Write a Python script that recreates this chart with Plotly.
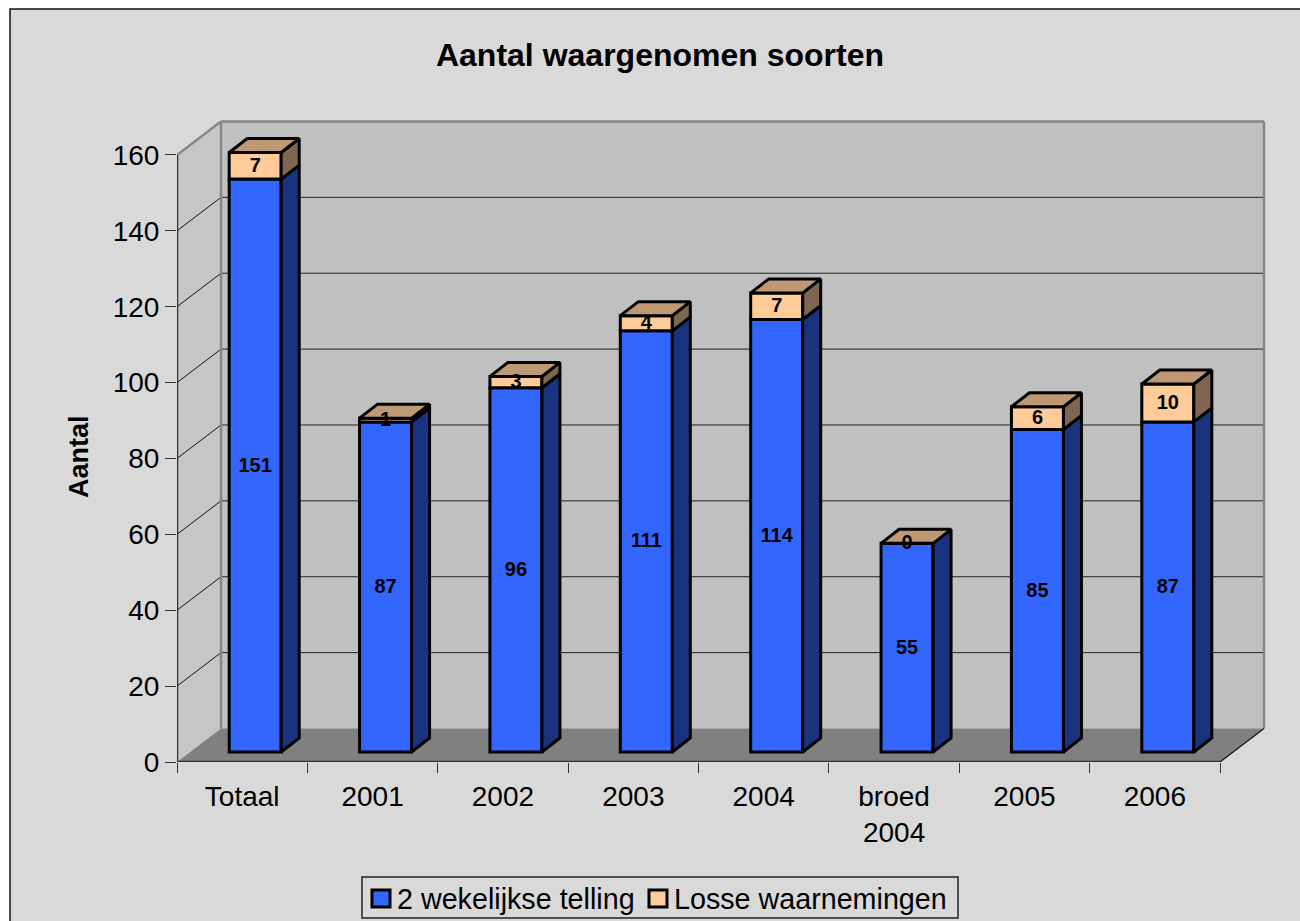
import plotly.graph_objects as go

categories = ["Totaal", "2001", "2002", "2003", "2004", "broed<br>2004", "2005", "2006"]
telling = [151, 87, 96, 111, 114, 55, 85, 87]
losse = [7, 1, 3, 4, 7, 0, 6, 10]
y_ticks = [0, 20, 40, 60, 80, 100, 120, 140, 160]
series_names = ["2 wekelijkse telling", "Losse waarnemingen"]
series_colors = ["#3366FF", "#FFCC99"]

W, H = 1300, 921
PX_X = 130.375      # pixels per category
PX_Y = 3.794        # pixels per unit
X0_PX, Y0_PX = 177, 762
DEPTH_X, DEPTH_Y = 44 / PX_X, 33.5 / PX_Y      # wall depth
BAR_W = 52 / PX_X
BAR_SHIFT = 13 / PX_X
BAR_BASE = 10 / PX_Y
BAR_DX, BAR_DY = 18 / PX_X, 14 / PX_Y
LABEL_NUDGE = 1 / PX_Y
FONT = "Liberation Sans, Arial, sans-serif"

x_lo, x_hi_wall = -0.5, 7.5 + DEPTH_X
y_hi_wall = 160 + DEPTH_Y
PAD = 4
x_hi = x_hi_wall + PAD / PX_X
y_hi = y_hi_wall + PAD / PX_Y
x_idx = list(range(len(categories)))
bar_x = [i + BAR_SHIFT for i in x_idx]


def path(pts):
    return "M" + "L".join(f"{a},{b}" for a, b in pts) + "Z"


def seg(a, b, color, width):
    return dict(type="line", layer="below", xref="x", yref="y", x0=a[0], y0=a[1], x1=b[0], y1=b[1],
                line=dict(color=color, width=width))


def paper_rect(x0, y0, x1, y1, fill, line_color, line_width):
    return dict(type="rect", layer="below", xref="paper", yref="paper", x0=x0 / W, x1=x1 / W,
                y0=1 - y1 / H, y1=1 - y0 / H, fillcolor=fill, line=dict(color=line_color, width=line_width))


shapes = [
    paper_rect(10, 9, W + 20, H + 20, "#D9D9D9", "#111111", 1.5),
    # left wall
    dict(type="path", layer="below", xref="x", yref="y",
         path=path([(x_lo, 0), (x_lo + DEPTH_X, DEPTH_Y), (x_lo + DEPTH_X, y_hi_wall), (x_lo, 160)]),
         fillcolor="#C6C6C6", line=dict(width=0)),
    # back wall
    dict(type="path", layer="below", xref="x", yref="y",
         path=path([(x_lo + DEPTH_X, DEPTH_Y), (x_hi_wall, DEPTH_Y), (x_hi_wall, y_hi_wall), (x_lo + DEPTH_X, y_hi_wall)]),
         fillcolor="#C0C0C0", line=dict(width=0)),
    # floor
    dict(type="path", layer="below", xref="x", yref="y",
         path=path([(x_lo, 0), (7.5, 0), (x_hi_wall, DEPTH_Y), (x_lo + DEPTH_X, DEPTH_Y)]),
         fillcolor="#808080", line=dict(width=0)),
]
for t in y_ticks[1:-1]:
    shapes.append(seg((x_lo, t), (x_lo + DEPTH_X, t + DEPTH_Y), "#111111", 1))
    shapes.append(seg((x_lo + DEPTH_X, t + DEPTH_Y), (x_hi_wall, t + DEPTH_Y), "#222222", 1))
# wall outlines
shapes += [
    seg((x_lo, 160), (x_lo + DEPTH_X, y_hi_wall), "#868686", 2.5),
    seg((x_lo + DEPTH_X, y_hi_wall), (x_hi_wall, y_hi_wall), "#868686", 2.5),
    seg((x_hi_wall, y_hi_wall), (x_hi_wall, DEPTH_Y), "#868686", 2.5),
    seg((x_lo + DEPTH_X, y_hi_wall), (x_lo + DEPTH_X, DEPTH_Y), "#868686", 2.5),
    seg((x_lo, 0), (x_lo, 160), "#333333", 2.5),
    seg((x_lo, 0), (7.5, 0), "#333333", 2.5),
    seg((7.5, 0), (x_hi_wall, DEPTH_Y), "#111111", 1.2),
]

# legend box and swatches
shapes.append(paper_rect(362, 877, 958, 918, "rgba(0,0,0,0)", "#222222", 1.5))
shapes.append(paper_rect(372, 890, 390, 907, series_colors[0], "#000000", 3))
shapes.append(paper_rect(649, 890, 667, 907, series_colors[1], "#000000", 3))

fig = go.Figure()
outline = dict(color="#000000", width=3)

fig.add_trace(go.Bar(x=bar_x, y=telling, base=[BAR_BASE] * len(telling), width=BAR_W, name=series_names[0],
                     marker=dict(color=series_colors[0], line=outline), showlegend=False))
fig.add_trace(go.Bar(x=bar_x, y=losse, base=[BAR_BASE + v for v in telling], width=BAR_W, name=series_names[1],
                     marker=dict(color=series_colors[1], line=outline), showlegend=False))


def face(pts, color):
    xs = [p[0] for p in pts] + [pts[0][0]]
    ys = [p[1] for p in pts] + [pts[0][1]]
    fig.add_trace(go.Scatter(x=xs, y=ys, mode="lines", fill="toself", fillcolor=color,
                             line=dict(color="#000000", width=3), showlegend=False, hoverinfo="skip"))


for x, a, b in zip(bar_x, telling, losse):
    right = x + BAR_W / 2
    left = x - BAR_W / 2
    y0 = BAR_BASE
    y1 = y0 + a
    y2 = y1 + b
    face([(right, y0), (right, y1), (right + BAR_DX, y1 + BAR_DY), (right + BAR_DX, y0 + BAR_DY)], "#1A337F")
    face([(right, y1), (right, y2), (right + BAR_DX, y2 + BAR_DY), (right + BAR_DX, y1 + BAR_DY)], "#806650")
    face([(left, y2), (right, y2), (right + BAR_DX, y2 + BAR_DY), (left + BAR_DX, y2 + BAR_DY)], "#BF9973")

label_font = dict(family=FONT, size=20, color="#000000", weight="bold")
fig.add_trace(go.Scatter(x=bar_x, y=[BAR_BASE + v / 2 - LABEL_NUDGE for v in telling], text=[str(v) for v in telling],
                         mode="text", textfont=label_font, textposition="middle center",
                         showlegend=False, hoverinfo="skip"))
fig.add_trace(go.Scatter(x=bar_x, y=[BAR_BASE + a + b / 2 - LABEL_NUDGE for a, b in zip(telling, losse)],
                         text=[str(v) for v in losse],
                         mode="text", textfont=label_font, textposition="middle center",
                         showlegend=False, hoverinfo="skip"))

dom_x = [X0_PX / W, (X0_PX + (x_hi - x_lo) * PX_X) / W]
dom_y = [1 - Y0_PX / H, 1 - (Y0_PX - y_hi * PX_Y) / H]

legend_font = dict(family=FONT, size=28.7, color="#000000")

fig.update_layout(
    width=W, height=H, margin=dict(l=0, r=0, t=0, b=0, autoexpand=False),
    paper_bgcolor="#FFFFFF", plot_bgcolor="rgba(0,0,0,0)",
    barmode="overlay", shapes=shapes, showlegend=False,
    font=dict(family=FONT, size=28, color="#000000"),
    title=dict(text="<b>Aantal waargenomen soorten</b>", font=dict(family=FONT, size=32, color="#000000"),
               x=660 / W, xref="paper", xanchor="center", y=1 - 55 / H, yref="paper", yanchor="middle"),
    xaxis=dict(domain=dom_x, range=[x_lo, x_hi], tickvals=x_idx, ticktext=categories, showgrid=False, zeroline=False,
               showline=False, ticks="outside", ticklen=9, tickcolor="rgba(0,0,0,0)", automargin=False,
               minor=dict(tickvals=[i - 0.5 for i in range(len(categories) + 1)], ticks="outside", ticklen=10,
                          tickcolor="#333333", tickwidth=1.3, showgrid=False),
               tickfont=dict(family=FONT, size=28, color="#000000")),
    yaxis=dict(domain=dom_y, range=[0, y_hi], tickvals=y_ticks, showgrid=False, zeroline=False, showline=False,
               ticks="outside", ticklen=11, tickcolor="#333333", tickwidth=1.3, automargin=False,
               tickfont=dict(family=FONT, size=28, color="#000000")),
    annotations=[
        dict(text="<b>Aantal</b>", textangle=-90, xref="paper", yref="paper", x=79 / W, y=1 - 457 / H,
             showarrow=False, xanchor="center", yanchor="middle", font=dict(family=FONT, size=27, color="#000000")),
        dict(text=series_names[0], xref="paper", yref="paper", x=395 / W, y=1 - 899 / H, showarrow=False,
             xanchor="left", yanchor="middle", font=legend_font),
        dict(text=series_names[1], xref="paper", yref="paper", x=672 / W, y=1 - 899 / H, showarrow=False,
             xanchor="left", yanchor="middle", font=legend_font),
    ],
)

fig.write_html("out.html", config=dict(displayModeBar=False),
               post_script="document.body.style.margin='0';document.body.style.overflow='hidden';")
